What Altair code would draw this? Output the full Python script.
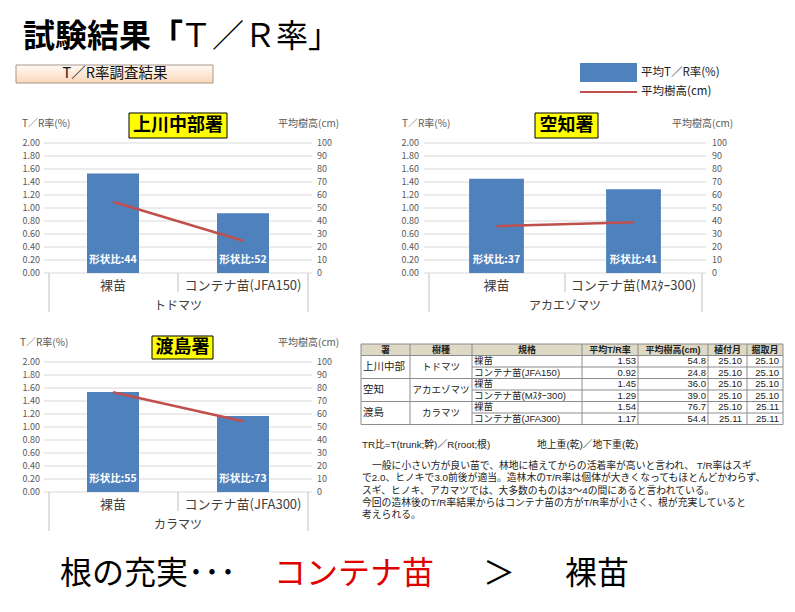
import altair as alt
import pandas as pd

FONT = "Noto Sans CJK JP"
TFONT = "Liberation Sans, Noto Sans CJK JP"
OFF = 8


def px(v):
    return v - OFF


# ---------------- data ----------------
offices = ["上川中部署", "空知署", "渡島署"]
species = ["トドマツ", "アカエゾマツ", "カラマツ"]
stock_types = [
    ["裸苗", "コンテナ苗(JFA150)"],
    ["裸苗", "コンテナ苗(Mｽﾀｰ300)"],
    ["裸苗", "コンテナ苗(JFA300)"],
]
tr_ratio = [[1.53, 0.92], [1.45, 1.29], [1.54, 1.17]]
mean_height = [[54.8, 24.8], [36.0, 39.0], [76.7, 54.4]]
shape_ratio = [[44, 52], [37, 41], [55, 73]]
tr_ticks = [0.0, 0.2, 0.4, 0.6, 0.8, 1.0, 1.2, 1.4, 1.6, 1.8, 2.0]
height_ticks = [0, 10, 20, 30, 40, 50, 60, 70, 80, 90, 100]

tbl_header = ["署", "樹種", "規格", "平均T/R率", "平均樹高(cm)", "植付月", "掘取月"]
tbl_office = ["上川中部", "空知", "渡島"]
tbl_species = ["トドマツ", "アカエゾマツ", "カラマツ"]
tbl_planted = [25.10, 25.10, 25.10, 25.10, 25.10, 25.11]
tbl_dug = [25.10, 25.10, 25.10, 25.10, 25.11, 25.11]

title_bold = "試験結果「"
title_normal = "Ｔ／Ｒ率」"
subtitle = "T／R率調査結果"
legend_labels = ["平均T／R率(%)", "平均樹高(cm)"]
axis_left_title = "T／R率(%)"
axis_right_title = "平均樹高(cm)"
note_formula = ["TR比=T(trunk;幹)／R(root;根)", "地上重(乾)／地下重(乾)"]
note_lines = [
    "一般に小さい方が良い苗で、林地に植えてからの活着率が高いと言われ、 T/R率はスギ",
    "で2.0、ヒノキで3.0前後が適当。造林木のT/R率は個体が大きくなってもほとんどかわらず、",
    "スギ、ヒノキ、アカマツでは、大多数のものは3～4の間にあると言われている。",
    "今回の造林後のT/R率結果からはコンテナ苗の方がT/R率が小さく、根が充実していると",
    "考えられる。",
]
note_indent = [1, 0, 0, 0, 0]
conclusion = ["根の充実･･･", "コンテナ苗", "＞", "裸苗"]

BLUE = "#4f81bd"
RED = "#c0504d"
GRID = "#d9d9d9"
TXT = "#595959"


def one():
    return pd.DataFrame({"t": [""]})


def text_at(s, x, y, size, color="#000000", weight="normal", align="left",
            baseline="middle", font=FONT):
    return alt.Chart(pd.DataFrame({"t": [s]})).mark_text(
        align=align, baseline=baseline, fontSize=size, fontWeight=weight,
        color=color, font=font
    ).encode(x=alt.value(px(x)), y=alt.value(px(y)), text="t:N")


def rect_at(x, x2, y, y2, fill, stroke=None, sw=1):
    kw = dict(fill=fill)
    if stroke is not None:
        kw.update(stroke=stroke, strokeWidth=sw)
    return alt.Chart(one()).mark_rect(**kw).encode(
        x=alt.value(px(x)), x2=alt.value(px(x2)),
        y=alt.value(px(y)), y2=alt.value(px(y2)))


def rule_at(x, x2, y, y2, color, sw=1):
    return alt.Chart(one()).mark_rule(color=color, strokeWidth=sw).encode(
        x=alt.value(px(x)), x2=alt.value(px(x2)),
        y=alt.value(px(y)), y2=alt.value(px(y2)))


layers = []

# ---------------- header ----------------
layers.append(text_at(title_bold, 23, 37, 32, weight="bold"))
layers.append(text_at(title_normal, 180, 37, 32))
layers.append(alt.Chart(one()).mark_rect(
    fill=alt.Gradient(gradient="linear",
                      stops=[alt.GradientStop(color="#fffaf5", offset=0),
                             alt.GradientStop(color="#fbd6b8", offset=1)],
                      x1=0, x2=0, y1=0, y2=1),
    stroke="#a89888", strokeWidth=1).encode(
    x=alt.value(px(16)), x2=alt.value(px(213)),
    y=alt.value(px(65)), y2=alt.value(px(83))))
layers.append(text_at(subtitle, 115, 74, 14.5, color="#111111", align="center"))

# legend
layers.append(rect_at(580, 637, 63, 82, BLUE))
layers.append(rule_at(580, 637, 92, 92, RED, 2))
layers.append(text_at(legend_labels[0], 641, 72.5, 11.5, color="#222222"))
layers.append(text_at(legend_labels[1], 641, 92, 11.5, color="#222222"))

# ---------------- panels ----------------
panels = [
    dict(x0=48, x1=308, ytop=143, ybot=273, box=(129, 227, 113, 138), ty=124,
         ltx=22, rtx=278, lr=40, rl=317),
    dict(x0=428, x1=702, ytop=143, ybot=273, box=(535, 598, 113, 138), ty=124,
         ltx=402, rtx=672, lr=419, rl=712),
    dict(x0=48, x1=308, ytop=362, ybot=492, box=(152, 213, 336, 359), ty=343,
         ltx=20, rtx=278, lr=40, rl=317),
]

for i, p in enumerate(panels):
    cats = stock_types[i]
    df = pd.DataFrame({
        "cat": cats,
        "tr": tr_ratio[i],
        "h": mean_height[i],
        "lab": [f"形状比:{s}" for s in shape_ratio[i]],
    })
    xs = alt.Scale(domain=cats, range=[px(p["x0"]), px(p["x1"])],
                   paddingInner=0.6, paddingOuter=0.3)
    ys_tr = alt.Scale(domain=[0, 2], range=[px(p["ybot"]), px(p["ytop"])], nice=False)
    ys_h = alt.Scale(domain=[0, 100], range=[px(p["ybot"]), px(p["ytop"])], nice=False)

    trt = pd.DataFrame({"v": tr_ticks})
    ht = pd.DataFrame({"v": height_ticks})

    # gridlines
    layers.append(alt.Chart(trt).mark_rule(color=GRID, strokeWidth=1).encode(
        y=alt.Y("v:Q", scale=ys_tr, axis=None),
        x=alt.value(px(p["x0"] - 4)), x2=alt.value(px(p["x1"] + 4))))
    # left tick labels
    layers.append(alt.Chart(trt).mark_text(
        align="right", baseline="middle", fontSize=9, color=TXT, font=FONT).encode(
        y=alt.Y("v:Q", scale=ys_tr, axis=None),
        x=alt.value(px(p["lr"])),
        text=alt.Text("v:Q", format=".2f")))
    # right tick labels
    layers.append(alt.Chart(ht).mark_text(
        align="left", baseline="middle", fontSize=9, color=TXT, font=FONT).encode(
        y=alt.Y("v:Q", scale=ys_h, axis=None),
        x=alt.value(px(p["rl"])),
        text=alt.Text("v:Q", format="d")))
    # bars
    layers.append(alt.Chart(df).mark_bar(color=BLUE).encode(
        x=alt.X("cat:N", scale=xs, axis=None, sort=cats),
        y=alt.Y("tr:Q", scale=ys_tr, axis=None)))
    # line
    layers.append(alt.Chart(df).mark_line(color=RED, strokeWidth=2.5).encode(
        x=alt.X("cat:N", scale=xs, axis=None, sort=cats),
        y=alt.Y("h:Q", scale=ys_h, axis=None)))
    # bar labels
    layers.append(alt.Chart(df).mark_text(
        color="white", fontWeight="bold", fontSize=10.5, font=FONT,
        baseline="middle").encode(
        x=alt.X("cat:N", scale=xs, axis=None, sort=cats),
        y=alt.value(px(p["ybot"] - 13)),
        text="lab:N"))
    # category labels
    layers.append(alt.Chart(df).mark_text(
        fontSize=13, color="#404040", font=FONT, baseline="middle").encode(
        x=alt.X("cat:N", scale=xs, axis=None, sort=cats),
        y=alt.value(px(p["ybot"] + 12.5)),
        text="cat:N"))
    # category axis separators
    mid = (p["x0"] + p["x1"]) / 2
    layers.append(rule_at(p["x0"] + 1, p["x0"] + 1, p["ybot"], p["ybot"] + 39, "#bfbfbf"))
    layers.append(rule_at(p["x1"], p["x1"], p["ybot"], p["ybot"] + 39, "#bfbfbf"))
    layers.append(rule_at(mid, mid, p["ybot"], p["ybot"] + 19, "#bfbfbf"))
    # group label
    layers.append(text_at(species[i], mid, p["ybot"] + 32.5, 12, color="#404040", align="center"))
    # axis titles
    layers.append(text_at(axis_left_title, p["ltx"], p["ty"], 10, color=TXT))
    layers.append(text_at(axis_right_title, p["rtx"], p["ty"], 10, color=TXT))
    # office title box
    bx0, bx1, by0, by1 = p["box"]
    layers.append(rect_at(bx0, bx1, by0, by1, "#ffff00", "#000000", 1))
    layers.append(text_at(offices[i], (bx0 + bx1) / 2, (by0 + by1) / 2 + 0.5, 18,
                          weight="bold", align="center"))

# ---------------- table ----------------
col_x = [361, 410, 472, 582, 638, 708, 747, 783]
t_top, t_head = 344, 355.5
t_bot = 424.5
row_h = (t_bot - t_head) / 6
TS = 9.5

layers.append(rect_at(col_x[0], col_x[-1], t_top, t_head, "#ddd9c4"))
for k, h in enumerate(tbl_header):
    layers.append(text_at(h, (col_x[k] + col_x[k + 1]) / 2, (t_top + t_head) / 2 + 0.5, 9,
                          color="#222222", weight="bold", align="center", font=TFONT))

rows = pd.DataFrame({
    "row": list(range(6)),
    "spec": [c for cs in stock_types for c in cs],
    "tr": [v for vs in tr_ratio for v in vs],
    "h": [v for vs in mean_height for v in vs],
    "pl": tbl_planted,
    "dg": tbl_dug,
})
row_scale = alt.Scale(domain=list(range(6)), range=[px(t_head), px(t_bot)],
                      paddingInner=0, paddingOuter=0)
grp = pd.DataFrame({"g": [0, 1, 2], "office": tbl_office, "sp": tbl_species})
grp_scale = alt.Scale(domain=[0, 1, 2], range=[px(t_head), px(t_bot)],
                      paddingInner=0, paddingOuter=0)


def tcol(field, x, align, fmt=None, data=rows, yfield="row:O", scale=row_scale, size=TS):
    txt = alt.Text(field, format=fmt) if fmt else alt.Text(field)
    return alt.Chart(data).mark_text(
        align=align, baseline="middle", fontSize=size, color="#222222", font=TFONT).encode(
        y=alt.Y(yfield, scale=scale, axis=None),
        x=alt.value(px(x)), text=txt)


layers.append(tcol("office:N", col_x[0] + 2, "left", data=grp, yfield="g:O", scale=grp_scale, size=10.5))
layers.append(tcol("sp:N", (col_x[1] + col_x[2]) / 2, "center", data=grp, yfield="g:O", scale=grp_scale))
layers.append(tcol("spec:N", col_x[2] + 2, "left"))
layers.append(tcol("tr:Q", col_x[4] - 2, "right", ".2f"))
layers.append(tcol("h:Q", col_x[5] - 2, "right", ".1f"))
layers.append(tcol("pl:Q", col_x[6] - 5, "right", ".2f"))
layers.append(tcol("dg:Q", col_x[7] - 4, "right", ".2f"))

LINE = "#8c8c8c"
layers.append(rule_at(col_x[0], col_x[-1], t_top, t_top, LINE))
layers.append(rule_at(col_x[0], col_x[-1], t_head, t_head, LINE))
for r in range(1, 7):
    y = t_head + r * row_h
    x_start = col_x[0] if r % 2 == 0 else col_x[2]
    layers.append(rule_at(x_start, col_x[-1], y, y, LINE))
for cx in col_x:
    layers.append(rule_at(cx, cx, t_top, t_bot, LINE))

# ---------------- notes ----------------
NS = 9.8
layers.append(text_at(note_formula[0], 362, 445, NS, color="#222222", font=TFONT))
layers.append(text_at(note_formula[1], 537, 445, NS, color="#222222", font=TFONT))
for k, line in enumerate(note_lines):
    layers.append(text_at(line, 362 + note_indent[k] * 10, 466 + k * 12.3, NS,
                          color="#222222", font=TFONT))

# ---------------- conclusion ----------------
layers.append(text_at(conclusion[0], 60, 574, 32))
layers.append(text_at(conclusion[1], 274, 574, 32, color="#e00000"))
layers.append(text_at(conclusion[2], 483, 574, 32))
layers.append(text_at(conclusion[3], 565, 574, 32))

chart = alt.layer(*layers).resolve_scale(
    x="independent", y="independent"
).properties(
    width=779, height=596, padding=0,
    autosize=alt.AutoSizeParams(type="none"),
    background="white",
).configure_view(stroke=None)

chart.save("out.html", embed_options={"renderer": "svg", "actions": False})
